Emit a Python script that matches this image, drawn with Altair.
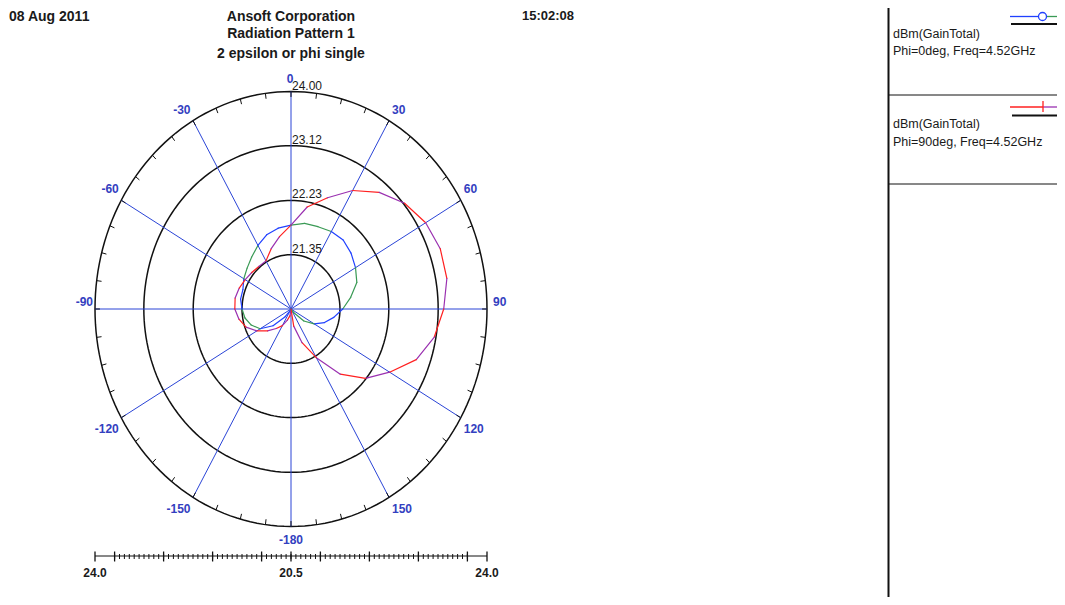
import altair as alt
import numpy as np
import pandas as pd

# ---------------- data ----------------
THETA_DEG = list(range(-180, 181, 10))
GAIN_PHI0 = [20.30, 20.32, 20.36, 20.50, 20.63, 20.89, 21.11, 21.23, 21.31, 21.35,
             21.39, 21.39, 21.45, 21.50, 21.57, 21.66, 21.75, 21.80, 21.83, 21.88,
             21.89, 21.92, 21.93, 21.88, 21.81, 21.73, 21.56, 21.40, 21.25, 21.11,
             20.95, 20.77, 20.54, 20.40, 20.34, 20.31, 20.30]
GAIN_PHI90 = [20.40, 20.58, 20.66, 20.78, 20.88, 21.02, 21.18, 21.33, 21.42, 21.48,
              21.49, 21.46, 21.42, 21.39, 21.37, 21.37, 21.51, 21.66, 21.83, 22.15,
              22.39, 22.69, 22.94, 23.14, 23.27, 23.33, 23.32, 23.22, 23.09, 22.87,
              22.52, 22.22, 21.85, 21.38, 21.05, 20.75, 20.40]
RING_VALUES = [21.35, 22.23, 23.12, 24.00]
R_MIN = 20.4675
R_MAX = 24.00
ANGLE_LABELS = [0, 30, 60, 90, 120, 150, -180, -150, -120, -90, -60, -30]
BAR_LABELS = ["24.0", "20.5", "24.0"]
DATE_TEXT = "08 Aug 2011"
TIME_TEXT = "15:02:08"
TITLE_LINES = ["Ansoft Corporation", "Radiation Pattern 1", "2 epsilon or phi single"]
LEGEND_QTY = "dBm(GainTotal)"
LEGEND_PHI0 = "Phi=0deg, Freq=4.52GHz"
LEGEND_PHI90 = "Phi=90deg, Freq=4.52GHz"

# ---------------- layout / style ----------------
W, H = 1049, 589
M = 8
CX, CY = 291 - M, 309 - M
RX, RY = 196.0, 217.5
FONT = "Liberation Sans"
C_SPOKE = "#2a44d6"
C_LABEL = "#3340c0"
C_TEXT = "#1a1a1a"
C_BLUE, C_GREEN, C_RED, C_PURPLE = "#2040ff", "#3a9a55", "#ff2020", "#9a30b0"

xs = alt.Scale(domain=[-CX / RX, (W - CX) / RX], nice=False, zero=False)
ys = alt.Scale(domain=[-(H - CY) / RY, CY / RY], nice=False, zero=False)
SPAN = R_MAX - R_MIN


def rexpr(field):
    return f"max(0, (datum.{field} - {R_MIN}) / {SPAN})"


def X(f):
    return alt.X(f"{f}:Q", scale=xs, axis=None)


def Y(f):
    return alt.Y(f"{f}:Q", scale=ys, axis=None)


ONE = pd.DataFrame({"k": [0]})

# ---- curve segments ----
rows = []
for i in range(len(THETA_DEG) - 1):
    t = THETA_DEG[i]
    k0 = "p0a" if (t // 30) % 2 else "p0b"
    k90 = "p90a" if (t // 10) % 2 else "p90b"
    rows.append(dict(theta=t, gain=GAIN_PHI0[i], theta2=THETA_DEG[i + 1],
                     gain2=GAIN_PHI0[i + 1], seg=k0, ser=0))
    rows.append(dict(theta=t, gain=GAIN_PHI90[i], theta2=THETA_DEG[i + 1],
                     gain2=GAIN_PHI90[i + 1], seg=k90, ser=1))
seg_df = pd.DataFrame(rows)

curves = alt.Chart(seg_df).transform_calculate(
    r1=rexpr("gain"), r2=rexpr("gain2")
).transform_calculate(
    xa="datum.r1 * sin(datum.theta * PI / 180)",
    ya="datum.r1 * cos(datum.theta * PI / 180)",
    xb="datum.r2 * sin(datum.theta2 * PI / 180)",
    yb="datum.r2 * cos(datum.theta2 * PI / 180)",
).mark_rule(strokeWidth=1.2, strokeCap="round").encode(
    x=X("xa"), y=Y("ya"), x2="xb:Q", y2="yb:Q",
    color=alt.Color("seg:N", legend=None,
                    scale=alt.Scale(domain=["p0a", "p0b", "p90a", "p90b"],
                                    range=[C_BLUE, C_GREEN, C_RED, C_PURPLE])),
)

# ---- rings ----
ang = np.arange(0, 361, 2)
ring_df = pd.DataFrame([dict(ring=v, a=float(a)) for v in RING_VALUES for a in ang])
rings = alt.Chart(ring_df).transform_calculate(
    rn=f"(datum.ring - {R_MIN}) / {SPAN}"
).transform_calculate(
    x="datum.rn * sin(datum.a * PI / 180)", y="datum.rn * cos(datum.a * PI / 180)"
).mark_line(color="#111111", strokeWidth=1.5).encode(
    x=X("x"), y=Y("y"), detail="ring:N", order="a:Q"
)

ring_lab_df = pd.DataFrame({"ring": RING_VALUES,
                            "label": [f"{v:.2f}" for v in RING_VALUES]})
ring_labels = alt.Chart(ring_lab_df).transform_calculate(
    x="0", y=f"(datum.ring - {R_MIN}) / {SPAN}"
).mark_text(align="left", baseline="bottom", dx=1, dy=1, fontSize=12,
            font=FONT, color=C_TEXT).encode(x=X("x"), y=Y("y"), text="label:N")

# ---- spokes ----
spoke_df = pd.DataFrame({"a": [0, 30, 60, 90, 120, 150]})
spokes = alt.Chart(spoke_df).transform_calculate(
    xa="sin(datum.a * PI / 180)", ya="cos(datum.a * PI / 180)",
    xb="-sin(datum.a * PI / 180)", yb="-cos(datum.a * PI / 180)",
).mark_rule(color=C_SPOKE, strokeWidth=1).encode(
    x=X("xa"), y=Y("ya"), x2="xb:Q", y2="yb:Q"
)

# ---- outer ring ticks ----
tick_df = pd.DataFrame({"a": np.arange(0, 360, 7.5)})
ticks = alt.Chart(tick_df).transform_calculate(
    xa="sin(datum.a * PI / 180)", ya="cos(datum.a * PI / 180)",
    xb="0.975 * sin(datum.a * PI / 180)", yb="0.975 * cos(datum.a * PI / 180)",
).mark_rule(color="#111111", strokeWidth=1).encode(
    x=X("xa"), y=Y("ya"), x2="xb:Q", y2="yb:Q"
)

# ---- angle labels (anchored at the outer ring, placed by quadrant) ----
alab_df = pd.DataFrame({"a": ANGLE_LABELS, "label": [str(v) for v in ANGLE_LABELS]})
alab_base = alt.Chart(alab_df).transform_calculate(
    x="sin(datum.a * PI / 180)", y="cos(datum.a * PI / 180)"
)


def alab(filt, align, baseline, dx, dy):
    return alab_base.transform_filter(filt).mark_text(
        align=align, baseline=baseline, dx=dx, dy=dy, fontSize=12, fontWeight="bold",
        font=FONT, color=C_LABEL).encode(x=X("x"), y=Y("y"), text="label:N")


angle_labels = [
    alab("datum.a > 0 && datum.a < 90", "left", "bottom", 3, -4),
    alab("datum.a == 90", "left", "middle", 6, -7),
    alab("datum.a > 90 && datum.a < 180", "left", "top", 3, 6.5),
    alab("datum.a < 0 && datum.a > -90", "right", "bottom", -2.5, -4),
    alab("datum.a == -90", "right", "middle", -2, -7),
    alab("datum.a < -90 && datum.a > -180", "right", "top", -2.5, 6.5),
    alab("datum.a == 0", "center", "bottom", -1, -6),
    alab("datum.a == -180", "center", "top", 0, 8.5),
]

# ---- bottom scale bar ----
BAR_Y = 556 - M
bar_line = alt.Chart(ONE).transform_calculate(xa="-1", xb="1").mark_rule(
    color="#111111", strokeWidth=1).encode(x=X("xa"), x2="xb:Q", y=alt.value(BAR_Y))
minor_k = np.arange(-36, 37)
minor = alt.Chart(pd.DataFrame({"p": minor_k * 0.025})).mark_rule(
    color="#111111", strokeWidth=1).encode(x=X("p"), y=alt.value(BAR_Y - 2),
                                           y2=alt.value(BAR_Y + 3))
major_k = np.array([-40, -36, -26, -16, -6, 0, 6, 16, 26, 36, 40])
major = alt.Chart(pd.DataFrame({"p": major_k * 0.025})).mark_rule(
    color="#111111", strokeWidth=1.3).encode(x=X("p"), y=alt.value(BAR_Y - 4.5),
                                             y2=alt.value(BAR_Y + 5.5))
bar_lab = alt.Chart(pd.DataFrame({"p": [-1.0, 0.0, 1.0], "label": BAR_LABELS})).mark_text(
    align="center", baseline="middle", fontSize=12, fontWeight="bold", font=FONT,
    color=C_TEXT).encode(x=X("p"), y=alt.value(573 - M), text="label:N")


# ---- decorations: titles & legend frame ----
def dtext(text, x, y, size=14, weight="bold", align="left", baseline="alphabetic"):
    return alt.Chart(ONE).mark_text(text=text, fontSize=size, fontWeight=weight,
                                    align=align, baseline=baseline, font=FONT,
                                    color=C_TEXT).encode(x=alt.value(x), y=alt.value(y))


def drule(x, x2, y, y2, color="#111111", width=1.0):
    return alt.Chart(ONE).mark_rule(color=color, strokeWidth=width).encode(
        x=alt.value(x), x2=alt.value(x2), y=alt.value(y), y2=alt.value(y2))


deco = [
    dtext(DATE_TEXT, 9 - M, 1.5, baseline="top"),
    dtext(TITLE_LINES[0], 291 - M, 1.5, align="center", baseline="top"),
    dtext(TITLE_LINES[1], 291 - M, 38 - M, align="center"),
    dtext(TITLE_LINES[2], 291 - M, 58 - M, align="center"),
    dtext(TIME_TEXT, 548 - M, 1.5, size=13, align="center", baseline="top"),
    drule(888.5 - M, 888.5 - M, 0, H, width=2),
    drule(888.5 - M, W, 95 - M, 95 - M),
    drule(888.5 - M, W, 184 - M, 184 - M),
    # entry 1
    drule(1010 - M, 1038 - M, 16.5 - M, 16.5 - M, color=C_BLUE, width=1.3),
    drule(1047 - M, W, 16.5 - M, 16.5 - M, color=C_GREEN, width=1.3),
    alt.Chart(ONE).mark_point(shape="circle", size=64, filled=True, fill="white",
                              stroke=C_BLUE, strokeWidth=1.3, opacity=1).encode(
        x=alt.value(1042.5 - M), y=alt.value(16.5 - M)),
    drule(1011 - M, W, 24 - M, 24 - M, width=2),
    dtext(LEGEND_QTY, 893 - M, 38 - M, size=12.5, weight="normal"),
    dtext(LEGEND_PHI0, 893 - M, 55 - M, size=12.5, weight="normal"),
    # entry 2
    drule(1010 - M, 1043 - M, 107 - M, 107 - M, color=C_RED, width=1.3),
    drule(1043 - M, W, 107 - M, 107 - M, color=C_PURPLE, width=1.3),
    drule(1043 - M, 1043 - M, 101 - M, 112 - M, color=C_RED, width=1.3),
    drule(1012 - M, W, 115.5 - M, 115.5 - M, width=2),
    dtext(LEGEND_QTY, 893 - M, 128 - M, size=12.5, weight="normal"),
    dtext(LEGEND_PHI90, 893 - M, 146 - M, size=12.5, weight="normal"),
]

chart = alt.layer(
    rings, spokes, ticks, ring_labels, curves, *angle_labels,
    bar_line, minor, major, bar_lab, *deco
).properties(
    width=W, height=H, padding=0, autosize=alt.AutoSizeParams(type="none"),
    background="white"
).configure_view(strokeWidth=0, stroke="transparent")

chart.save("out.html", embed_options={"renderer": "svg", "actions": False})
